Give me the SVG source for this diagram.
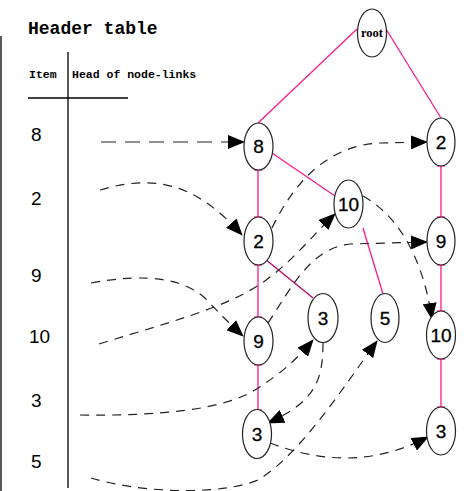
<svg xmlns="http://www.w3.org/2000/svg" width="466" height="491" viewBox="0 0 466 491">
<style>
.node ellipse{fill:#fff;stroke:#222;stroke-width:1.2}
.node text{font-family:"Liberation Sans",Arial,sans-serif;font-size:19px;text-anchor:middle;fill:#000;stroke:#000;stroke-width:0.3}
.tree line{stroke:#ff1a8c;stroke-width:1.3}
.tick{stroke:#ff1a8c;stroke-width:1.3}
.link{fill:none;stroke:#222;stroke-width:1.2;stroke-dasharray:9 7;marker-end:url(#ah)}
.item{font-family:"Liberation Sans",Arial,sans-serif;font-size:19px;fill:#000}
.hdr{font-family:"Liberation Mono","Courier New",monospace;font-weight:bold;fill:#000}
.tbl{stroke:#000;stroke-width:1.3}
</style>
<defs>
<marker id="ah" markerUnits="userSpaceOnUse" markerWidth="18" markerHeight="14" refX="16" refY="7" orient="auto">
<path d="M0,0 L17,7 L0,14 Z" fill="#000"/>
</marker>
</defs>
<rect width="466" height="491" fill="#fff"/>
<g id="header-table">
<line class="tbl" x1="1" y1="36" x2="1" y2="491"/>
<line class="tbl" x1="68" y1="52" x2="68" y2="488"/>
<line class="tbl" x1="28" y1="98" x2="128" y2="98"/>
<text class="hdr" x="28" y="34" font-size="18">Header table</text>
<text class="hdr" x="29" y="78" font-size="11.5">Item</text>
<text class="hdr" x="72" y="78" font-size="11.5">Head of node-links</text>
<text class="item" x="31" y="141">8</text>
<text class="item" x="31" y="205">2</text>
<text class="item" x="31" y="282">9</text>
<text class="item" x="29" y="343">10</text>
<text class="item" x="31" y="407">3</text>
<text class="item" x="31" y="468">5</text>
</g>
<g id="tree-edges" class="tree">
<line x1="357" y1="29" x2="258" y2="123"/>
<line x1="386" y1="29" x2="441" y2="118"/>
<line x1="258" y1="170" x2="258" y2="217"/>
<line x1="272" y1="153" x2="335" y2="196"/>
<line x1="258" y1="265" x2="258" y2="317"/>
<line x1="265" y1="259" x2="313" y2="298" style="stroke:#c8006a"/>
<line x1="363" y1="228" x2="383" y2="294"/>
<line x1="258" y1="365" x2="258" y2="410"/>
<line x1="441" y1="166" x2="441" y2="217"/>
<line x1="441" y1="265" x2="441" y2="311"/>
<line x1="441" y1="359" x2="441" y2="407"/>
<line class="tick" x1="254" y1="170" x2="262" y2="170"/>
<line class="tick" x1="254" y1="217" x2="262" y2="217"/>
<line class="tick" x1="254" y1="265" x2="262" y2="265"/>
<line class="tick" x1="254" y1="317" x2="262" y2="317"/>
<line class="tick" x1="254" y1="365" x2="262" y2="365"/>
<line class="tick" x1="254" y1="410" x2="262" y2="410"/>
<line class="tick" x1="437" y1="166" x2="445" y2="166"/>
<line class="tick" x1="437" y1="217" x2="445" y2="217"/>
<line class="tick" x1="437" y1="265" x2="445" y2="265"/>
<line class="tick" x1="437" y1="311" x2="445" y2="311"/>
<line class="tick" x1="437" y1="359" x2="445" y2="359"/>
<line class="tick" x1="437" y1="407" x2="445" y2="407"/>
</g>
<g id="connectors">
<path class="link" d="M101,142 L244,142" style="stroke-dasharray:15 9"/>
<path class="link" d="M100,190 C160,172 200,188 242,235"/>
<path class="link" d="M91,283 C150,272 185,280 205,298 C218,312 230,324 243,336"/>
<path class="link" d="M99,344 C170,322 225,308 262,283 C292,262 312,236 335,214"/>
<path class="link" d="M80,415 C160,416 222,410 255,390 C282,373 298,358 313,340"/>
<path class="link" d="M91,478 C150,495 225,494 258,480 C300,455 345,385 377,341"/>
<path class="link" d="M272,228 C295,180 330,145 380,143 L427,142"/>
<path class="link" d="M268,323 C290,290 310,248 350,244 L427,242"/>
<path class="link" d="M363,196 C395,214 422,252 432,319"/>
<path class="link" d="M323,343 C323,382 314,402 268,423"/>
<path class="link" d="M270,443 C320,462 372,466 428,437"/>
</g>
<g id="n-root" class="node"><ellipse cx="372" cy="33" rx="14.5" ry="24"/><text x="372" y="37" style="font-family:'Liberation Serif','Times New Roman',serif;font-weight:bold;font-size:12.5px;stroke:none">root</text></g>
<g id="n-8" class="node"><ellipse cx="258.5" cy="146.5" rx="14.5" ry="23.5"/><text x="258.5" y="153">8</text></g>
<g id="n-2a" class="node"><ellipse cx="258.5" cy="241" rx="14.5" ry="24"/><text x="258.5" y="248">2</text></g>
<g id="n-9a" class="node"><ellipse cx="258.5" cy="341" rx="14.5" ry="24"/><text x="258.5" y="348">9</text></g>
<g id="n-3a" class="node"><ellipse cx="257" cy="434" rx="14.5" ry="24.5"/><text x="257" y="441">3</text></g>
<g id="n-10a" class="node"><ellipse cx="348.5" cy="204" rx="14.5" ry="24"/><text x="348.5" y="211">10</text></g>
<g id="n-3b" class="node"><ellipse cx="323" cy="318" rx="15" ry="24.5"/><text x="323" y="325">3</text></g>
<g id="n-5" class="node"><ellipse cx="385" cy="318" rx="14" ry="24.5"/><text x="385" y="325">5</text></g>
<g id="n-2b" class="node"><ellipse cx="441" cy="142" rx="14" ry="24"/><text x="441" y="149">2</text></g>
<g id="n-9b" class="node"><ellipse cx="441" cy="241" rx="14" ry="24"/><text x="441" y="248">9</text></g>
<g id="n-10b" class="node"><ellipse cx="441" cy="335" rx="14.5" ry="24"/><text x="441" y="342">10</text></g>
<g id="n-3c" class="node"><ellipse cx="441" cy="431" rx="14.5" ry="24"/><text x="441" y="438">3</text></g>
</svg>
